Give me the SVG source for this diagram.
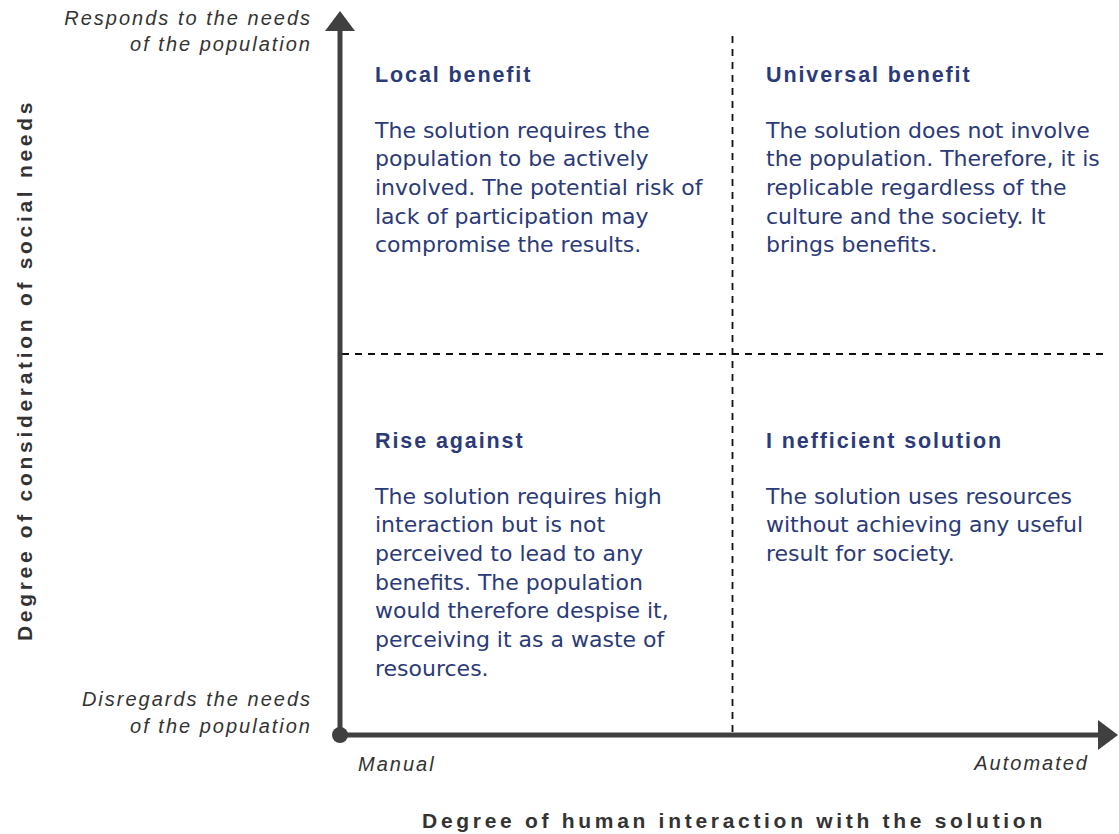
<svg xmlns="http://www.w3.org/2000/svg" width="1119" height="834" viewBox="0 0 1119 834">
<style>
.ax{stroke:#404040;stroke-width:5;fill:none}
.dash{stroke:#111;stroke-width:1.8;stroke-dasharray:7 6;fill:none}
.ttl{font-family:"Liberation Sans",Arial,sans-serif;font-weight:bold;font-size:21.5px;letter-spacing:1.9px;fill:#2b3a78}
.body{font-family:"DejaVu Sans",Verdana,sans-serif;font-size:22px;fill:#2b3a78}
.it{font-family:"Liberation Sans",Arial,sans-serif;font-style:italic;font-size:20px;letter-spacing:2px;fill:#333}
.axl{font-family:"Liberation Sans",Arial,sans-serif;font-weight:bold;font-size:21px;letter-spacing:3.7px;fill:#333}
</style>
<defs>
<marker id="arr" markerWidth="6" markerHeight="6" refX="1" refY="3" orient="auto" markerUnits="strokeWidth">
<path d="M0,0 L4,3 L0,6 Z" fill="#404040"/>
</marker>
</defs>
<rect width="1119" height="834" fill="#fff"/>
<g id="connectors">
<line class="dash" x1="732.5" y1="36" x2="732.5" y2="733"/>
<line class="dash" x1="342" y1="354" x2="1108" y2="354"/>
<line class="ax" x1="340" y1="735" x2="340" y2="26" marker-end="url(#arr)"/>
<line class="ax" x1="340" y1="735" x2="1103" y2="735" marker-end="url(#arr)"/>
<circle cx="340" cy="735" r="8" fill="#404040"/>
</g>
<g id="axis-labels">
<text class="it" x="312" y="25" text-anchor="end">Responds to the needs</text>
<text class="it" x="312" y="51" text-anchor="end">of the population</text>
<text class="it" x="312" y="706" text-anchor="end">Disregards the needs</text>
<text class="it" x="312" y="733" text-anchor="end">of the population</text>
<text class="it" x="358" y="771">Manual</text>
<text class="it" x="1089" y="770" text-anchor="end">Automated</text>
<text class="axl" x="734" y="828" text-anchor="middle">Degree of human interaction with the solution</text>
<text class="axl" transform="translate(32,370) rotate(-90)" text-anchor="middle">Degree of consideration of social needs</text>
</g>
<g id="local-benefit">
<text class="ttl" x="375" y="82">Local benefit</text>
<text class="body" x="375" y="138">The solution requires the</text>
<text class="body" x="375" y="166">population to be actively</text>
<text class="body" x="375" y="195">involved. The potential risk of</text>
<text class="body" x="375" y="224">lack of participation may</text>
<text class="body" x="375" y="252">compromise the results.</text>
</g>
<g id="universal-benefit">
<text class="ttl" x="766" y="82">Universal benefit</text>
<text class="body" x="766" y="138">The solution does not involve</text>
<text class="body" x="766" y="166">the population. Therefore, it is</text>
<text class="body" x="766" y="195">replicable regardless of the</text>
<text class="body" x="766" y="224">culture and the society. It</text>
<text class="body" x="766" y="252">brings benefits.</text>
</g>
<g id="rise-against">
<text class="ttl" x="375" y="448">Rise against</text>
<text class="body" x="375" y="504">The solution requires high</text>
<text class="body" x="375" y="532">interaction but is not</text>
<text class="body" x="375" y="561">perceived to lead to any</text>
<text class="body" x="375" y="590">benefits. The population</text>
<text class="body" x="375" y="618">would therefore despise it,</text>
<text class="body" x="375" y="647">perceiving it as a waste of</text>
<text class="body" x="375" y="676">resources.</text>
</g>
<g id="inefficient-solution">
<text class="ttl" x="766" y="448">I nefficient solution</text>
<text class="body" x="766" y="504">The solution uses resources</text>
<text class="body" x="766" y="532">without achieving any useful</text>
<text class="body" x="766" y="561">result for society.</text>
</g>
</svg>
